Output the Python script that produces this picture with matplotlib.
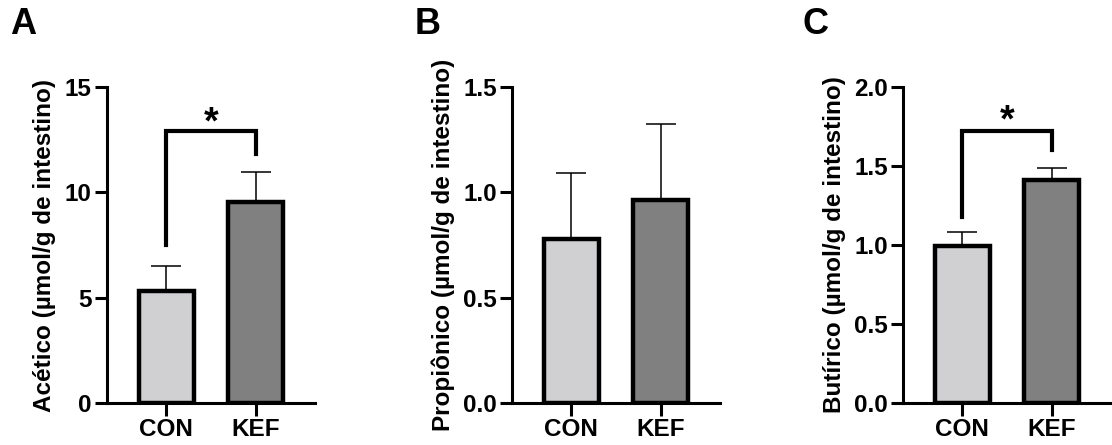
import matplotlib
matplotlib.use("Agg")
import matplotlib.pyplot as plt

plt.rcParams['font.family'] = ['Liberation Sans', 'DejaVu Sans']
plt.rcParams['font.weight'] = 'bold'

# data
groups = ["CON", "KEF"]
colors = ["#d0d0d2", "#808080"]

acetico = [5.3, 9.55]
acetico_err = [1.2, 1.4]
propionico = [0.78, 0.965]
propionico_err = [0.31, 0.36]
butirico = [0.995, 1.41]
butirico_err = [0.09, 0.075]

panels = [
    dict(letter="A", vals=acetico, err=acetico_err, ylim=15, ticks=[0, 5, 10, 15],
         fmt="{:.0f}", ylabel="Acético (µmol/g de intestino)",
         bracket=(12.9, 7.5, 11.8), star=12.4),
    dict(letter="B", vals=propionico, err=propionico_err, ylim=1.5, ticks=[0, 0.5, 1.0, 1.5],
         fmt="{:.1f}", ylabel="Propiônico (µmol/g de intestino)", bracket=None),
    dict(letter="C", vals=butirico, err=butirico_err, ylim=2.0, ticks=[0, 0.5, 1.0, 1.5, 2.0],
         fmt="{:.1f}", ylabel="Butírico (µmol/g de intestino)",
         bracket=(1.72, 1.18, 1.6), star=1.665),
]

fig = plt.figure(figsize=(11.12, 4.45), dpi=100)
lefts = [0.0962, 0.4604, 0.812]
letter_x = [0.009, 0.373, 0.722]

for p, left, lx in zip(panels, lefts, letter_x):
    ax = fig.add_axes([left, 0.0944, 0.187, 0.710])
    x = [0, 1]
    ax.errorbar(x, p["vals"], yerr=[[0, 0], p["err"]], fmt="none", ecolor="black",
                elinewidth=1.1, capsize=10.5, capthick=1.1, zorder=1)
    ax.bar(x, p["vals"], width=0.62, color=colors, edgecolor="black",
           linewidth=3.2, zorder=2)
    ax.set_xlim(-0.665, 1.665)
    ax.set_ylim(0, p["ylim"])
    ax.set_yticks(p["ticks"])
    ax.set_yticklabels([p["fmt"].format(t) for t in p["ticks"]])
    ax.set_xticks(x)
    ax.set_xticklabels(groups)
    for s in ["top", "right"]:
        ax.spines[s].set_visible(False)
    for s in ["left", "bottom"]:
        ax.spines[s].set_linewidth(2.2)
    ax.tick_params(axis="both", width=2.2, length=9, labelsize=17.5, pad=2)
    ax.set_ylabel(p["ylabel"], fontsize=17.5, fontweight="bold", labelpad=6)
    for lab in ax.get_xticklabels() + ax.get_yticklabels():
        lab.set_fontweight("bold")

    if p["bracket"]:
        top, l_end, r_end = p["bracket"]
        ax.plot([0, 0, 1, 1], [l_end, top, top, r_end], color="black",
                linewidth=3, solid_joinstyle="miter", clip_on=False)
        ax.text(0.5, p["star"], "*", ha="center", va="bottom", fontsize=27,
                fontweight="bold", clip_on=False)

    fig.text(lx, 0.905, p["letter"], fontsize=26, fontweight="bold", ha="left", va="bottom")

fig.savefig("out.png", dpi=100)
